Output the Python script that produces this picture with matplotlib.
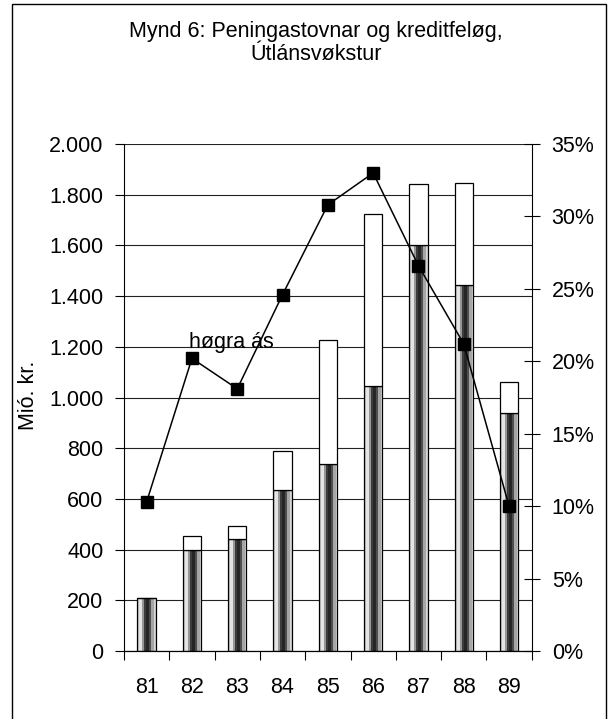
import numpy as np
import matplotlib.pyplot as plt
from matplotlib.patches import Rectangle
from matplotlib.colors import ListedColormap
from matplotlib.ticker import FuncFormatter, MultipleLocator

years = ['81', '82', '83', '84', '85', '86', '87', '88', '89']
lan_nedri = [210, 400, 440, 635, 737, 1045, 1600, 1443, 938]
lan_samlad = [210, 454, 492, 790, 1228, 1723, 1841, 1848, 1060]
vokstur = [0.103, 0.202, 0.181, 0.246, 0.308, 0.330, 0.266, 0.212, 0.100]

plt.rcParams['font.family'] = ['Liberation Sans', 'DejaVu Sans']
fs = 15.5

fig = plt.figure(figsize=(6.15, 7.19), dpi=100)
ax = fig.add_axes([124/615, 68/719, 407.7/615, 507/719])

x = np.arange(len(years))
w = 0.405
upp = np.array(lan_samlad) - np.array(lan_nedri)

nedri = ax.bar(x, lan_nedri, w, facecolor='none', edgecolor='black', linewidth=0.9, zorder=3)
ax.bar(x, upp, w, bottom=lan_nedri, facecolor='white', edgecolor='black', linewidth=0.9, zorder=3)

# stripe pattern inside the lower bars
stripes = ['#c8c8c8', '#e4e4e4', '#969696', '#3c3c3c', '#262626', '#4e4e4e', '#a6a6a6', '#d6d6d6']
grad = np.arange(len(stripes)).reshape(1, -1)
for b in nedri:
	im = ax.imshow(grad, cmap=ListedColormap(stripes), aspect='auto', interpolation='nearest',
		extent=(b.get_x(), b.get_x() + b.get_width(), 0, b.get_height()), zorder=2)
	im.set_clip_path(b)

ax.set_xlim(-0.5, len(years) - 0.5)
ax.set_ylim(0, 2000)
ax.yaxis.set_major_locator(MultipleLocator(200))
ax.yaxis.set_major_formatter(FuncFormatter(lambda v, p: f"{v:,.0f}".replace(',', '.')))
ax.grid(axis='y', color='#222222', linewidth=0.8)
ax.set_axisbelow(True)

ax.set_xticks(np.arange(-0.5, len(years), 1))
ax.set_xticklabels([])
ax.set_xticks(x, minor=True)
ax.set_xticklabels(years, minor=True)
ax.tick_params(axis='x', which='minor', length=0, pad=19, labelsize=fs)
ax.tick_params(axis='x', which='major', length=6.5, width=0.8)
ax.tick_params(axis='y', length=6.5, width=0.8, pad=8.4, labelsize=fs)
ax.spines['top'].set_visible(False)
ax.spines['right'].set_visible(False)

ax2 = ax.twinx()
ax2.plot(x, vokstur, color='black', marker='s', markersize=8.5, linewidth=1.1)
ax2.set_ylim(0, 0.35)
ax2.yaxis.set_major_locator(MultipleLocator(0.05))
ax2.yaxis.set_major_formatter(FuncFormatter(lambda v, p: f"{v*100:.0f}%"))
ax2.tick_params(axis='y', direction='inout', length=12, width=0.8, pad=8.4, labelsize=fs)
ax2.spines['top'].set_visible(False)
ax2.spines['left'].set_visible(False)

ax2.text(1.86, 1216, 'høgra ás', transform=ax.transData, ha='center', va='center', fontsize=fs)

fig.text(28/615, 1 - 395/719, 'Mió. kr.', rotation=90, ha='center', va='center', fontsize=fs)
fig.text(316/615, 1 - 43/719, 'Mynd 6: Peningastovnar og kreditfeløg,\nÚtlánsvøkstur',
	ha='center', va='center', fontsize=fs, linespacing=1.1)

fig.patches.append(Rectangle((11.5/615, -0.01), (606 - 11.5)/615, (719 - 4)/719 + 0.01,
	transform=fig.transFigure, fill=False, edgecolor='black', linewidth=1))

fig.savefig('out.png', dpi=100)
